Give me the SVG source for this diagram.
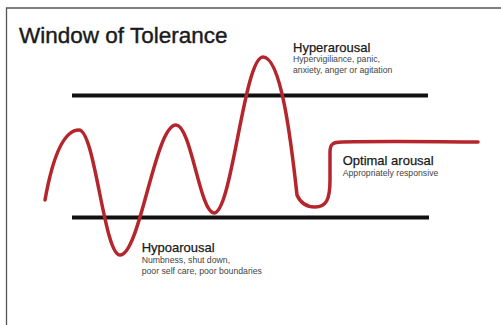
<svg xmlns="http://www.w3.org/2000/svg" width="501" height="325" viewBox="0 0 501 325">
  <style>
    .frame { fill: none; stroke: #555; stroke-width: 1.3; }
    .bound { stroke: #111; stroke-width: 4; }
    .wave { fill: none; stroke: #b5262c; stroke-width: 3.5; stroke-linecap: round; stroke-linejoin: round; }
    .title { font-family: "Liberation Sans", Arial, sans-serif; font-size: 22.5px; fill: #1a1a1a; stroke: #1a1a1a; stroke-width: 0.4; }
    .head { font-family: "Liberation Sans", Arial, sans-serif; font-size: 13px; fill: #1a1a1a; stroke: #1a1a1a; stroke-width: 0.25; }
    .sub { font-family: "Liberation Sans", Arial, sans-serif; font-size: 8.7px; fill: #444; }
  </style>
  <rect width="501" height="325" fill="#fff"/>
  <!-- frame edges -->
  <path class="frame" d="M501,8 L6.5,8 L6.5,325"/>

  <text class="title" x="19" y="42.5">Window of Tolerance</text>

  <!-- window boundaries -->
  <g id="bounds">
    <line class="bound" x1="72" y1="95.5" x2="428" y2="95.5"/>
    <line class="bound" x1="72" y1="217.5" x2="429" y2="217.5"/>
  </g>

  <!-- arousal curve -->
  <g id="connectors">
    <path class="wave" d="M45,200 C50,172 60,130 79,130 C95,130 104,255 120,255 C140,255 155,125 176,125 C191,125 200,213 214,213 C232,213 244,57 263,57 C281,57 291,140 297,195 C300,202 305,207 315,207 C326,207 330,200 330,180 L330,152 C330,144 333,142 342,142 C400,141 440,142 478,142"/>
  </g>

  <g id="hyperarousal">
    <text class="head" x="293" y="51.7">Hyperarousal</text>
    <text class="sub" x="293" y="62">Hypervigiliance, panic,</text>
    <text class="sub" x="293" y="72.5">anxiety, anger or agitation</text>
  </g>

  <g id="optimal">
    <text class="head" x="342.7" y="165">Optimal arousal</text>
    <text class="sub" x="342.7" y="175.5">Appropriately responsive</text>
  </g>

  <g id="hypoarousal">
    <text class="head" x="141.7" y="251.7">Hypoarousal</text>
    <text class="sub" x="141.7" y="263">Numbness, shut down,</text>
    <text class="sub" x="141.7" y="273.8">poor self care, poor boundaries</text>
  </g>
</svg>
